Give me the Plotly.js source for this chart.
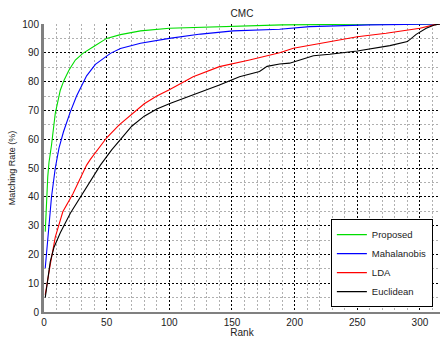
<!DOCTYPE html>
<html>
<head>
<meta charset="utf-8">
<script src="https://cdn.plot.ly/plotly-3.0.1.min.js"></script>
<style>html,body{margin:0;padding:0;background:#fff;}#chart{width:440px;height:338px;}</style>
</head>
<body>
<div id="chart"></div>
<script>
// Series names
const seriesNames = ["Proposed", "Mahalanobis", "LDA", "Euclidean"];

// Proposed (green)
const proposedRank = [1, 2, 3, 4, 6, 9, 13, 16, 20, 25, 31, 40, 45, 50, 61, 77, 100, 150, 190, 250, 316];
const proposedRate = [27.9, 41, 47, 52, 58, 69, 77, 80.5, 84, 87.5, 89.8, 92.3, 93.5, 95, 96.3, 97.6, 98.5, 99.3, 99.7, 99.9, 100];

// Mahalanobis (blue)
const mahalRank = [1, 3.5, 6, 9, 12, 15.5, 21, 26, 34, 41, 50, 53, 61, 71, 77, 100, 125, 151, 188, 212, 260, 316];
const mahalRate = [15.3, 27.3, 40, 50, 57, 62.5, 69.5, 75, 82, 86, 89, 89.8, 91.5, 92.7, 93.3, 95, 96.5, 97.6, 98.2, 99.1, 99.7, 100];

// LDA (red)
const ldaRank = [1, 3, 5, 9, 15, 23, 34, 37, 43, 50, 60, 71, 80, 90, 100, 119, 140, 164, 180, 188, 199, 250, 273, 300, 311, 316];
const ldaRate = [6, 11.5, 16.5, 26, 34.8, 41, 51, 53, 56.5, 60.5, 65, 69, 72.3, 75, 77.2, 81.7, 85.2, 87.5, 89.2, 90, 91.6, 95.6, 96.8, 98.5, 99.7, 100];

// Euclidean (black)
const euclRank = [1, 3, 5, 8, 13, 21, 29, 39, 45, 54, 61, 70, 80, 90, 101, 122, 140, 156, 172, 178, 188, 196, 215, 228, 250, 276, 290, 297, 305, 312, 316];
const euclRate = [5, 12, 17.5, 22.5, 27.5, 34.3, 40, 47, 51, 56.3, 60, 64.5, 68, 70.5, 72.5, 75.9, 78.8, 81.7, 83.5, 85.3, 86.1, 86.4, 89, 89.5, 90.6, 92.5, 93.9, 96.4, 98.5, 99.7, 100];

const xTickVals = [0, 50, 100, 150, 200, 250, 300];
const yTickVals = [0, 10, 20, 30, 40, 50, 60, 70, 80, 90, 100];

const colors = ["#00dd00", "#0000ff", "#ff0000", "#000000"];
const xs = [proposedRank, mahalRank, ldaRank, euclRank];
const ys = [proposedRate, mahalRate, ldaRate, euclRate];

const traces = seriesNames.map((n, i) => ({
  x: xs[i], y: ys[i], name: n, type: "scatter", mode: "lines",
  line: {color: colors[i], width: 1.1}
}));

const font = {family: "Liberation Sans, Arial, sans-serif", size: 10, color: "#222"};

const layout = {
  width: 440, height: 338,
  margin: {l: 44, r: 0, t: 24, b: 26, pad: 0},
  paper_bgcolor: "#fff", plot_bgcolor: "#fff",
  font: font,
  showlegend: true,
  title: {text: "CMC", font: {family: font.family, size: 10, color: "#222"}, x: 0.55, xanchor: "center", y: 1 - 13/338, yanchor: "middle"},
  xaxis: {
    range: [0, 316], tickvals: xTickVals, ticks: "", showline: true, linecolor: "#808080", linewidth: 1.5,
    showgrid: true, gridcolor: "#000", griddash: "2px,2px", gridwidth: 1, zeroline: false,
    minor: {dtick: 10, tick0: 0, showgrid: true, gridcolor: "#b0b0b0", griddash: "2px,2px", gridwidth: 1},
    title: {text: "Rank", font: {size: 10, color: "#222"}, standoff: 1},
    tickfont: {size: 10, color: "#222"}, fixedrange: true
  },
  yaxis: {
    range: [0, 100], tickvals: yTickVals, ticks: "", showline: true, linecolor: "#808080", linewidth: 3,
    showgrid: true, gridcolor: "#000", griddash: "2px,2px", gridwidth: 1, zeroline: false,
    minor: {dtick: 5, tick0: 0, showgrid: true, gridcolor: "#b0b0b0", griddash: "2px,2px", gridwidth: 1},
    title: {text: "Matching Rate (%)", font: {size: 9, color: "#222"}, standoff: 6},
    tickfont: {size: 10, color: "#222"}, fixedrange: true
  },
  legend: {
    x: 0.982, y: 0.017, xanchor: "right", yanchor: "bottom",
    bgcolor: "#fff", bordercolor: "#000", borderwidth: 1,
    font: {size: 9.5, color: "#222"}, tracegroupgap: 0, itemwidth: 30
  }
};

Plotly.newPlot("chart", traces, layout, {staticPlot: true, displayModeBar: false});
</script>
</body>
</html>
